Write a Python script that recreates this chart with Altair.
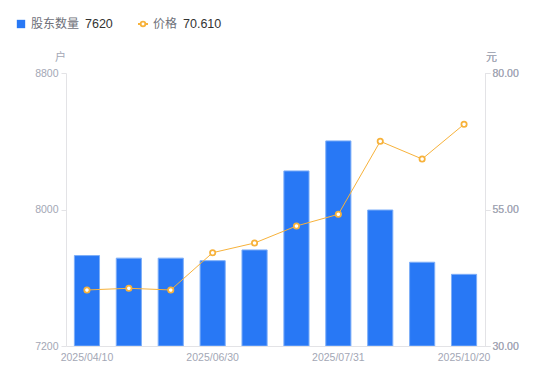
import altair as alt
import pandas as pd

dates = ["2025/04/10", "2025/04/30", "2025/05/20", "2025/06/30", "2025/07/10",
         "2025/07/20", "2025/07/31", "2025/08/31", "2025/09/30", "2025/10/20"]
holders = [7730, 7715, 7715, 7700, 7763, 8226, 8402, 7997, 7691, 7620]
prices = [40.26, 40.57, 40.26, 47.09, 48.86, 51.98, 54.12, 67.49, 64.25, 70.61]
shown_dates = [dates[0], dates[3], dates[6], dates[9]]

BLUE = "#2878F5"
ORANGE = "#F7B23B"
LABEL = "#A3A7B5"
AXIS = "#E3E3E6"
FONT = "Liberation Sans, Noto Sans CJK SC"

df = pd.DataFrame({"date": dates, "holders": holders, "price": prices,
                   "base": [7200] * len(dates)})

x = alt.X("date:N", sort=None, title=None,
          scale=alt.Scale(paddingInner=0.4, paddingOuter=0.2),
          axis=alt.Axis(values=shown_dates, labelAngle=0, labelColor=LABEL,
                        labelFontSize=10.5, labelFont=FONT, domainColor=AXIS,
                        ticks=False, labelPadding=6))

bars = alt.Chart(df).mark_bar(color=BLUE, stroke="#7DAEF8", strokeWidth=1, clip=True).encode(
    x=x,
    y=alt.Y("holders:Q",
            scale=alt.Scale(domain=[7200, 8800], nice=False, zero=False),
            axis=alt.Axis(values=[7200, 8000, 8800], format="d", grid=False, title="户",
                          titleAngle=0, titleX=-6, titleY=-16, titleAlign="center",
                          titleBaseline="middle", titleColor=LABEL, titleFontSize=11,
                          titleFontWeight="normal", titleFont=FONT,
                          labelColor=LABEL, labelFontSize=10.5, labelFont=FONT,
                          domainColor=AXIS, tickColor=AXIS, tickSize=5, labelPadding=3)),
    y2="base:Q",
)

line_y = alt.Y("price:Q",
               scale=alt.Scale(domain=[30, 80], nice=False, zero=False),
               axis=alt.Axis(orient="right", values=[30, 55, 80], format=".2f", grid=False,
                             title="元", titleAngle=0, titleX=6, titleY=-16,
                             titleAlign="center", titleBaseline="middle",
                             titleColor=LABEL, titleFontSize=11, titleFontWeight="normal",
                             titleFont=FONT, labelColor=LABEL, labelFontSize=10.5,
                             labelFont=FONT, domainColor=AXIS, tickColor=AXIS,
                             tickSize=5, labelPadding=2))

line = alt.Chart(df).mark_line(color=ORANGE, strokeWidth=1).encode(x=x, y=line_y)
pts = alt.Chart(df).mark_point(filled=True, fill="white", stroke=ORANGE,
                               strokeWidth=1.8, size=28, opacity=1).encode(x=x, y=line_y)

one = pd.DataFrame({"k": [0]})
leg_sq = alt.Chart(one).mark_square(color=BLUE, size=70, opacity=1).encode(
    x=alt.value(-45), y=alt.value(-49))
leg_t1 = alt.Chart(one).mark_text(text="股东数量", align="left", baseline="middle",
                                  fontSize=12, color="#6E7079", font=FONT).encode(
    x=alt.value(-35), y=alt.value(-49))
leg_v1 = alt.Chart(one).mark_text(text=f"{holders[-1]}", align="left", baseline="middle",
                                  fontSize=12.5, color="#333333", font=FONT).encode(
    x=alt.value(19), y=alt.value(-49))
leg_ln = alt.Chart(one).mark_rule(color=ORANGE, strokeWidth=2).encode(
    x=alt.value(72), x2=alt.value(82), y=alt.value(-49))
leg_pt = alt.Chart(one).mark_point(filled=True, fill="white", stroke=ORANGE,
                                   strokeWidth=1.8, size=22, opacity=1).encode(
    x=alt.value(77), y=alt.value(-49))
leg_t2 = alt.Chart(one).mark_text(text="价格", align="left", baseline="middle",
                                  fontSize=12, color="#6E7079", font=FONT).encode(
    x=alt.value(87), y=alt.value(-49))
leg_v2 = alt.Chart(one).mark_text(text=f"{prices[-1]:.3f}", align="left", baseline="middle",
                                  fontSize=12.5, color="#333333", font=FONT).encode(
    x=alt.value(117), y=alt.value(-49))

chart = alt.layer(bars, line, pts, leg_sq, leg_t1, leg_v1, leg_ln, leg_pt, leg_t2, leg_v2
                  ).resolve_scale(y="independent").properties(
    width=419, height=273,
    autosize=alt.AutoSizeParams(type="none"),
    padding={"left": 58, "top": 65, "right": 57, "bottom": 27},
).configure_view(stroke=None)

chart.save("out.html", embed_options={"renderer": "svg", "actions": False})
